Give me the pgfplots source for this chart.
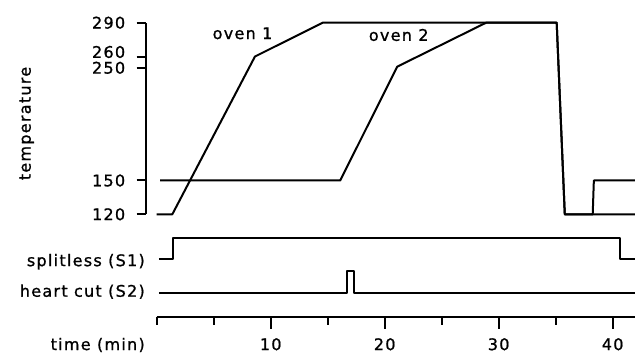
\documentclass[border=0pt]{standalone}
\usepackage{fontspec}
\setmainfont{DejaVu Sans}[LetterSpace=8.0, FakeBold=1]
\usepackage{pgfplots}
\pgfplotsset{compat=1.18}
\newcommand{\lbl}{\fontsize{16}{19}\selectfont}
\begin{document}
\begin{tikzpicture}[font=\lbl]
\useasboundingbox (0pt,-353pt) rectangle (635pt,0pt);
% temperature programme
\begin{axis}[
  at={(145.7pt,-214.3pt)}, anchor=south west, scale only axis,
  width=489.3pt, height=191.6pt,
  xmin=-0.965, xmax=41.96, ymin=120, ymax=290,
  axis x line=none, axis y line=left,
  axis line style={-, line width=2pt},
  ytick={120,150,250,290},
  extra y ticks={260},
  extra y tick style={yticklabel style={yshift=4.5pt}},
  tick align=outside, major tick length=9pt,
  tick style={line width=2pt, black},
  tick label style={font=\lbl},
  yticklabel style={xshift=-8pt},
  /pgf/number format/assume math mode=true,
  clip=false,
]
\addplot[black, line width=2pt, line join=round] coordinates {
  (0,120) (1.37,120) (8.62,260) (14.56,290) (35.09,290) (35.8,120) (41.96,120)};
\addplot[black, line width=2pt, line join=round] coordinates {
  (0.3,150) (16.1,150) (21.1,251) (28.9,290) (35.09,290) (35.8,120) (38.25,120) (38.35,150) (41.96,150)};
\end{axis}
% valve signals and time axis
\begin{axis}[
  at={(156.7pt,-316.7pt)}, anchor=south west, scale only axis,
  width=478.3pt, height=90pt,
  xmin=0, xmax=41.96, ymin=0, ymax=90,
  axis y line=none, axis x line=bottom,
  axis line style={-, line width=2pt},
  xtick={10,20,30,40}, minor xtick={0,5,15,25,35},
  tick align=outside, major tick length=12pt, minor tick length=8pt,
  tick style={line width=2pt, black},
  tick label style={font=\lbl},
  xticklabel style={yshift=-6pt},
  /pgf/number format/assume math mode=true,
  clip=false,
]
\addplot[black, line width=2pt, line join=round] coordinates {
  (0.2,57.4) (1.46,57.4) (1.46,78.4) (40.6,78.4) (40.6,57.4) (41.96,57.4)};
\addplot[black, line width=2pt, line join=round] coordinates {
  (0.2,23.4) (16.67,23.4) (16.67,46) (17.33,46) (17.33,23.4) (41.96,23.4)};
\end{axis}
\node[rotate=90] at (26.7pt,-123.5pt) {temperature};
\node at (242.5pt,-33.3pt) {oven 1};
\node at (398.7pt,-35pt) {oven 2};
\node[anchor=east, inner sep=0pt] at (145pt,-261.7pt) {splitless (S1)};
\node[anchor=east, inner sep=0pt] at (145pt,-291.7pt) {heart cut (S2)};
\node[anchor=east, inner sep=0pt] at (145pt,-345pt) {time (min)};
\end{tikzpicture}
\end{document}
